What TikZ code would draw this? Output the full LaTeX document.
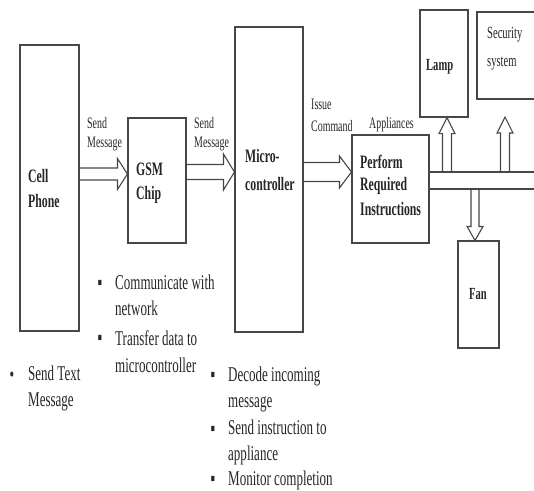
\documentclass[tikz,border=0pt]{standalone}
\usepackage{fontspec}
\setmainfont{Liberation Serif}[FakeStretch=0.62]
\usetikzlibrary{calc}
\newcommand\harr[5]{%
  \draw[ln] let \p1=(#1), \p2=(#2) in
    (\x1,\y1+#3) -- (\x2-#5,\y1+#3) -- (\x2-#5,\y1+#4) -- (\x2,\y1)
    -- (\x2-#5,\y1-#4) -- (\x2-#5,\y1-#3) -- (\x1,\y1-#3);}
\newcommand\uarr[5]{%
  \draw[ln] let \p1=(#1), \p2=(#2) in
    (\x1-#3,\y1) -- (\x1-#3,\y2-#5) -- (\x1-#4,\y2-#5) -- (\x1,\y2)
    -- (\x1+#4,\y2-#5) -- (\x1+#3,\y2-#5) -- (\x1+#3,\y1);}
\newcommand\darr[5]{%
  \draw[ln] let \p1=(#1), \p2=(#2) in
    (\x1-#3,\y1) -- (\x1-#3,\y2+#5) -- (\x1-#4,\y2+#5) -- (\x1,\y2)
    -- (\x1+#4,\y2+#5) -- (\x1+#3,\y2+#5) -- (\x1+#3,\y1);}
\begin{document}
\begin{tikzpicture}[x=1pt,y=-1pt,
  ln/.style={draw=black!72, line width=1.1pt},
  box/.style={ln, fill=white, inner sep=0},
  blbl/.style={font=\bfseries\fontsize{19}{23}\selectfont, align=left, anchor=base west, inner sep=0, text=black!85},
  albl/.style={font=\fontsize{16}{19}\selectfont, align=left, anchor=base west, inner sep=0, text=black!85},
  btxt/.style={font=\fontsize{21}{26}\selectfont, align=left, anchor=base west, inner sep=0, text=black!85},
  bul/.style={font=\fontsize{21}{26}\selectfont, anchor=base, inner sep=0, text=black!85}]
\useasboundingbox (0,0) rectangle (534,490);

% boxes
\node[box, minimum width=59, minimum height=286] (cell) at (49.5,188) {};
\node[box, minimum width=58, minimum height=125] (gsm) at (157,180.5) {};
\node[box, minimum width=68, minimum height=305] (micro) at (269,179.5) {};
\node[box, minimum width=77, minimum height=108] (perf) at (390.5,189) {};
\node[box, minimum width=48, minimum height=107] (lamp) at (444,63.5) {};
\node[box, minimum width=63, minimum height=87] (sec) at (508.5,55.5) {};
\node[box, minimum width=41, minimum height=107] (fan) at (478.5,294.5) {};

% box labels (base = baseline of last line)
\node[blbl] (tcell) at (28,207) {Cell\\[2pt]Phone};
\node[blbl] (tgsm) at (136,199) {GSM\\[1pt]Chip};
\node[blbl] (tmicro) at (245,190) {Micro-\\[5pt]controller};
\node[blbl] (tperf) at (360,215) {Perform\\[-1pt]Required\\[2pt]Instructions};
\node[blbl, font=\fontsize{17}{20}\selectfont\bfseries] (tlamp) at (426,70) {Lamp};
\node[albl, font=\fontsize{17}{28}\selectfont] (tsec) at (487,66) {Security\\system};
\node[blbl, anchor=base, font=\fontsize{17}{20}\selectfont\bfseries] (tfan) at (478,299) {Fan};

% connector coordinates
\coordinate (a1s) at (cell.east |- 0,174);
\coordinate (a1e) at (gsm.west |- 0,174);
\coordinate (a2s) at (gsm.east |- 0,172);
\coordinate (a2e) at (micro.west |- 0,172);
\coordinate (a3s) at (micro.east |- 0,172);
\coordinate (a3e) at (perf.west |- 0,172);
\coordinate (bt1) at (perf.east |- 0,172);
\coordinate (bt2) at (534,172);
\coordinate (bb1) at (perf.east |- 0,189);
\coordinate (bb2) at (534,189);
\coordinate (lamps) at (447,172);
\coordinate (lampe) at (lamps |- lamp.south);
\coordinate (secs) at (505,172);
\coordinate (sece) at (505,117);
\coordinate (fans) at (475,189);
\coordinate (fane) at (fans |- fan.north);

% arrows
\harr{a1s}{a1e}{6}{15.5}{10}
\harr{a2s}{a2e}{7.5}{18}{11}
\harr{a3s}{a3e}{9.5}{16}{12}
\draw[ln] (bt1) -- (bt2);
\draw[ln] (bb1) -- (bb2);
\uarr{lamps}{lampe}{4.5}{8}{16}
\uarr{secs}{sece}{4.5}{8}{16}
\darr{fans}{fane}{4}{8}{14}

% arrow labels
\node[albl] (l1) at (87,147) {Send\\Message};
\node[albl] (l2) at (194,147) {Send\\Message};
\node[albl] (l3) at (311,131) {Issue\\[3pt]Command};
\node[albl] (l4) at (369,128) {Appliances};

% bullet lists
\node[bul] (b1) at (12,381) {•};
\node[btxt] (t1) at (28,406) {Send Text\\Message};
\node[bul] (b2) at (100,289) {▪};
\node[btxt] (t2) at (115,315) {Communicate with\\network};
\node[bul] (b3) at (100,344) {▪};
\node[btxt] (t3) at (115,372) {Transfer data to\\[1pt]microcontroller};
\node[bul] (b4) at (213,381) {▪};
\node[btxt] (t4) at (228,407) {Decode incoming\\message};
\node[bul] (b5) at (213,435) {▪};
\node[btxt] (t5) at (228,460) {Send instruction to\\appliance};
\node[bul] (b6) at (213,485) {▪};
\node[btxt] (t6) at (228,485) {Monitor completion};
\end{tikzpicture}
\end{document}
